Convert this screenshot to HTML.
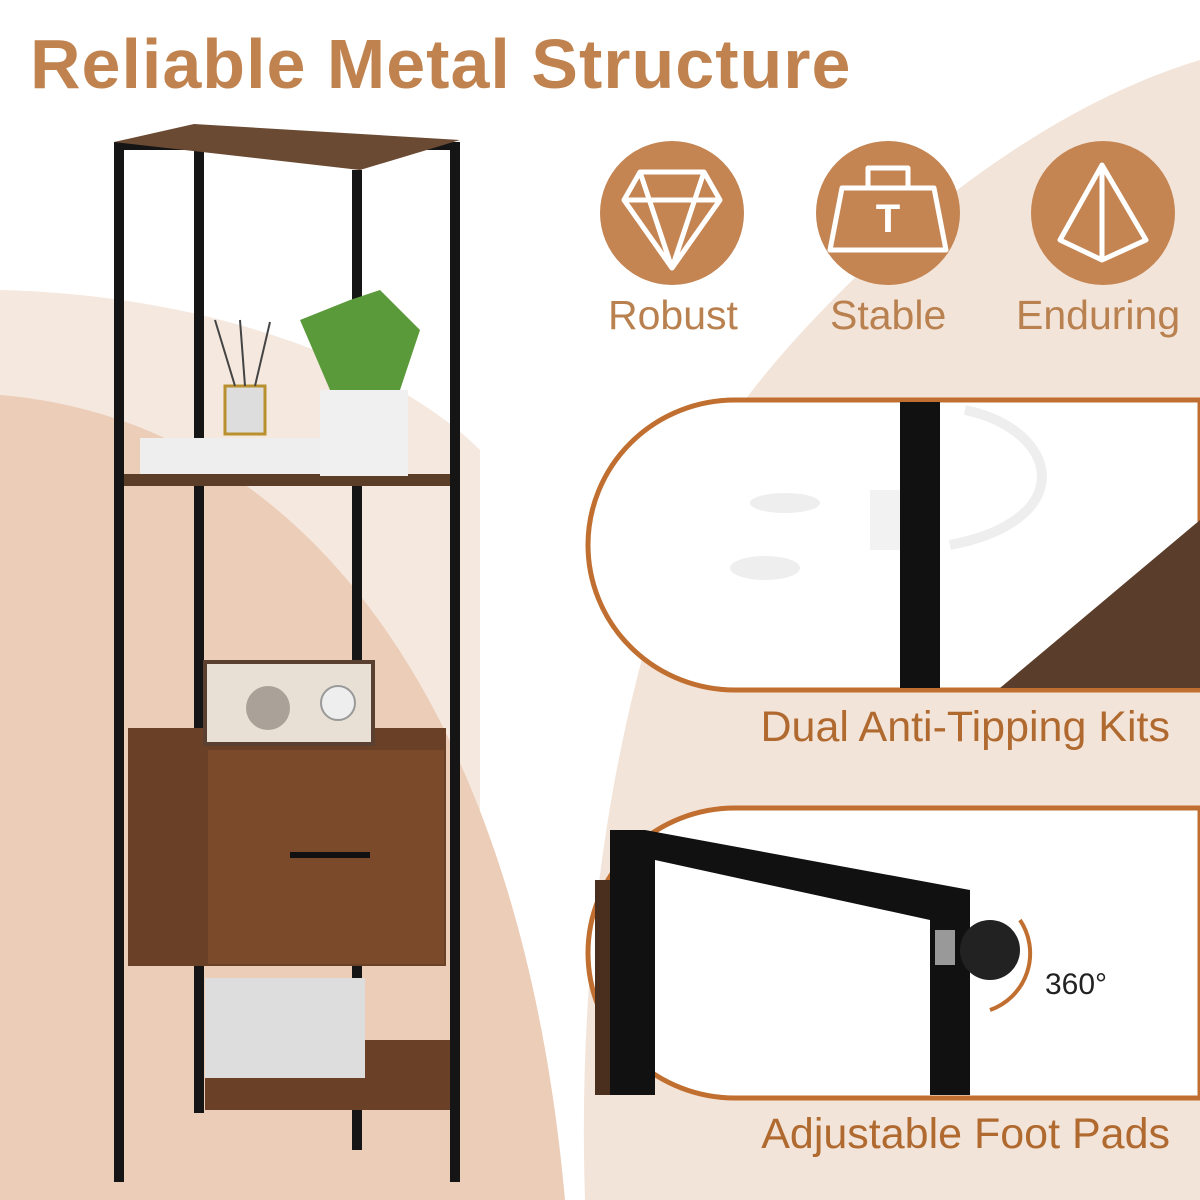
<!DOCTYPE html>
<html><head><meta charset="utf-8"><style>
body{margin:0;width:1200px;height:1200px;overflow:hidden;background:#fff;font-family:"Liberation Sans",sans-serif;position:relative}
.abs{position:absolute}
</style></head><body>
<svg class="abs" style="left:0;top:0" width="1200" height="1200">
<path d="M0,290 C220,295 400,370 480,450 L480,1200 L0,1200Z" fill="#f5e8df"/>
<path d="M0,395 C300,420 520,700 565,1200 L0,1200Z" fill="#ebcdb8"/>
<path d="M1200,60 C1000,120 820,300 745,400 C630,600 575,900 585,1200 L1200,1200Z" fill="#f3e4d9"/>
<path d="M1200,400 L735,400 A147,145 0 0 0 735,690 L1200,690Z" fill="#fff" stroke="#c06f30" stroke-width="5"/>
<path d="M1200,808 L735,808 A147,145 0 0 0 735,1098 L1200,1098Z" fill="#fff" stroke="#c06f30" stroke-width="5"/>
<polygon points="1000,688 1200,520 1200,688" fill="#5a3d2a"/>
<rect x="900" y="402" width="40" height="286" fill="#111"/>
<path d="M965,410 C1060,430 1080,520 950,545" stroke="#eee" stroke-width="10" fill="none"/>
<rect x="870" y="490" width="30" height="60" fill="#f2f2f2"/>
<ellipse cx="785" cy="503" rx="35" ry="10" fill="#eee"/>
<ellipse cx="765" cy="568" rx="35" ry="12" fill="#eee"/>
<rect x="595" y="880" width="40" height="215" fill="#4a2e1e"/>
<path d="M645,830 L970,890 L970,1095 L930,1095 L930,920 L655,860 L655,1095 L610,1095 L610,830Z" fill="#111"/>
<circle cx="990" cy="950" r="30" fill="#222"/>
<rect x="935" y="930" width="20" height="35" fill="#999"/>
<path d="M1020,920 A60,60 0 0 1 990,1010" stroke="#c06f30" stroke-width="4" fill="none"/>
<circle cx="672" cy="213" r="72" fill="#c48553"/>
<circle cx="888" cy="213" r="72" fill="#c48553"/>
<circle cx="1103" cy="213" r="72" fill="#c48553"/>
<g stroke="#fff" stroke-width="5" fill="none" stroke-linejoin="round">
<path d="M640,172 L704,172 L720,200 L672,268 L624,200Z M624,200 L720,200 M640,172 L672,268 L704,172"/>
<path d="M830,250 L946,250 L934,188 L842,188Z M868,188 L868,168 L908,168 L908,188"/>
<path d="M1102,165 L1060,240 L1102,260 L1146,240Z M1102,165 L1102,260"/>
</g>
<text x="888" y="232" font-family="Liberation Sans" font-weight="bold" font-size="40" fill="#fff" text-anchor="middle">T</text>
<g fill="#151515">
<rect x="114" y="142" width="10" height="1040"/>
<rect x="194" y="128" width="10" height="985"/>
<rect x="352" y="170" width="10" height="980"/>
<rect x="450" y="142" width="10" height="1040"/>
<rect x="114" y="142" width="346" height="8"/>
<rect x="114" y="478" width="346" height="8"/>
</g>
<polygon points="114,142 194,124 460,140 360,170" fill="#6b4a33"/>
<rect x="124" y="474" width="326" height="12" fill="#5c3d28"/>
<rect x="128" y="728" width="318" height="238" fill="#6a4127"/>
<rect x="208" y="750" width="236" height="214" fill="#7b4a2a"/>
<rect x="290" y="852" width="80" height="6" fill="#111"/>
<rect x="205" y="662" width="168" height="82" fill="#e8e0d4" stroke="#5a4030" stroke-width="4"/>
<circle cx="268" cy="708" r="22" fill="#aaa198"/>
<circle cx="338" cy="703" r="17" fill="#eee" stroke="#999" stroke-width="2"/>
<rect x="205" y="1040" width="245" height="70" fill="#6a4127"/>
<rect x="205" y="978" width="160" height="100" fill="#ddd" />
<rect x="140" y="438" width="200" height="36" fill="#eee"/>
<rect x="320" y="390" width="88" height="86" fill="#f0f0f0"/>
<path d="M330,390 L300,320 L350,300 L380,290 L420,330 L400,390Z" fill="#5b9a3a"/>
<rect x="225" y="386" width="40" height="48" fill="#ddd" stroke="#b8902e" stroke-width="3"/>
<g stroke="#444" stroke-width="2"><line x1="235" y1="386" x2="215" y2="320"/><line x1="245" y1="386" x2="240" y2="320"/><line x1="255" y1="386" x2="270" y2="322"/></g>
</svg>
<div class="abs" style="left:30px;top:24px;font-size:70px;font-weight:bold;color:#c0834f;white-space:nowrap;letter-spacing:1px">Reliable Metal Structure</div>
<div class="abs" style="left:608px;top:292px;font-size:41px;color:#b9814f">Robust</div>
<div class="abs" style="left:830px;top:292px;font-size:41px;color:#b9814f">Stable</div>
<div class="abs" style="left:1016px;top:292px;font-size:41px;color:#b9814f">Enduring</div>
<div class="abs" style="right:30px;top:703px;font-size:43px;color:#b06a30;white-space:nowrap">Dual Anti-Tipping Kits</div>
<div class="abs" style="right:30px;top:1110px;font-size:43px;color:#b06a30;white-space:nowrap">Adjustable Foot Pads</div>
<div class="abs" style="left:1045px;top:968px;font-size:30px;color:#222">360°</div>
</body></html>
